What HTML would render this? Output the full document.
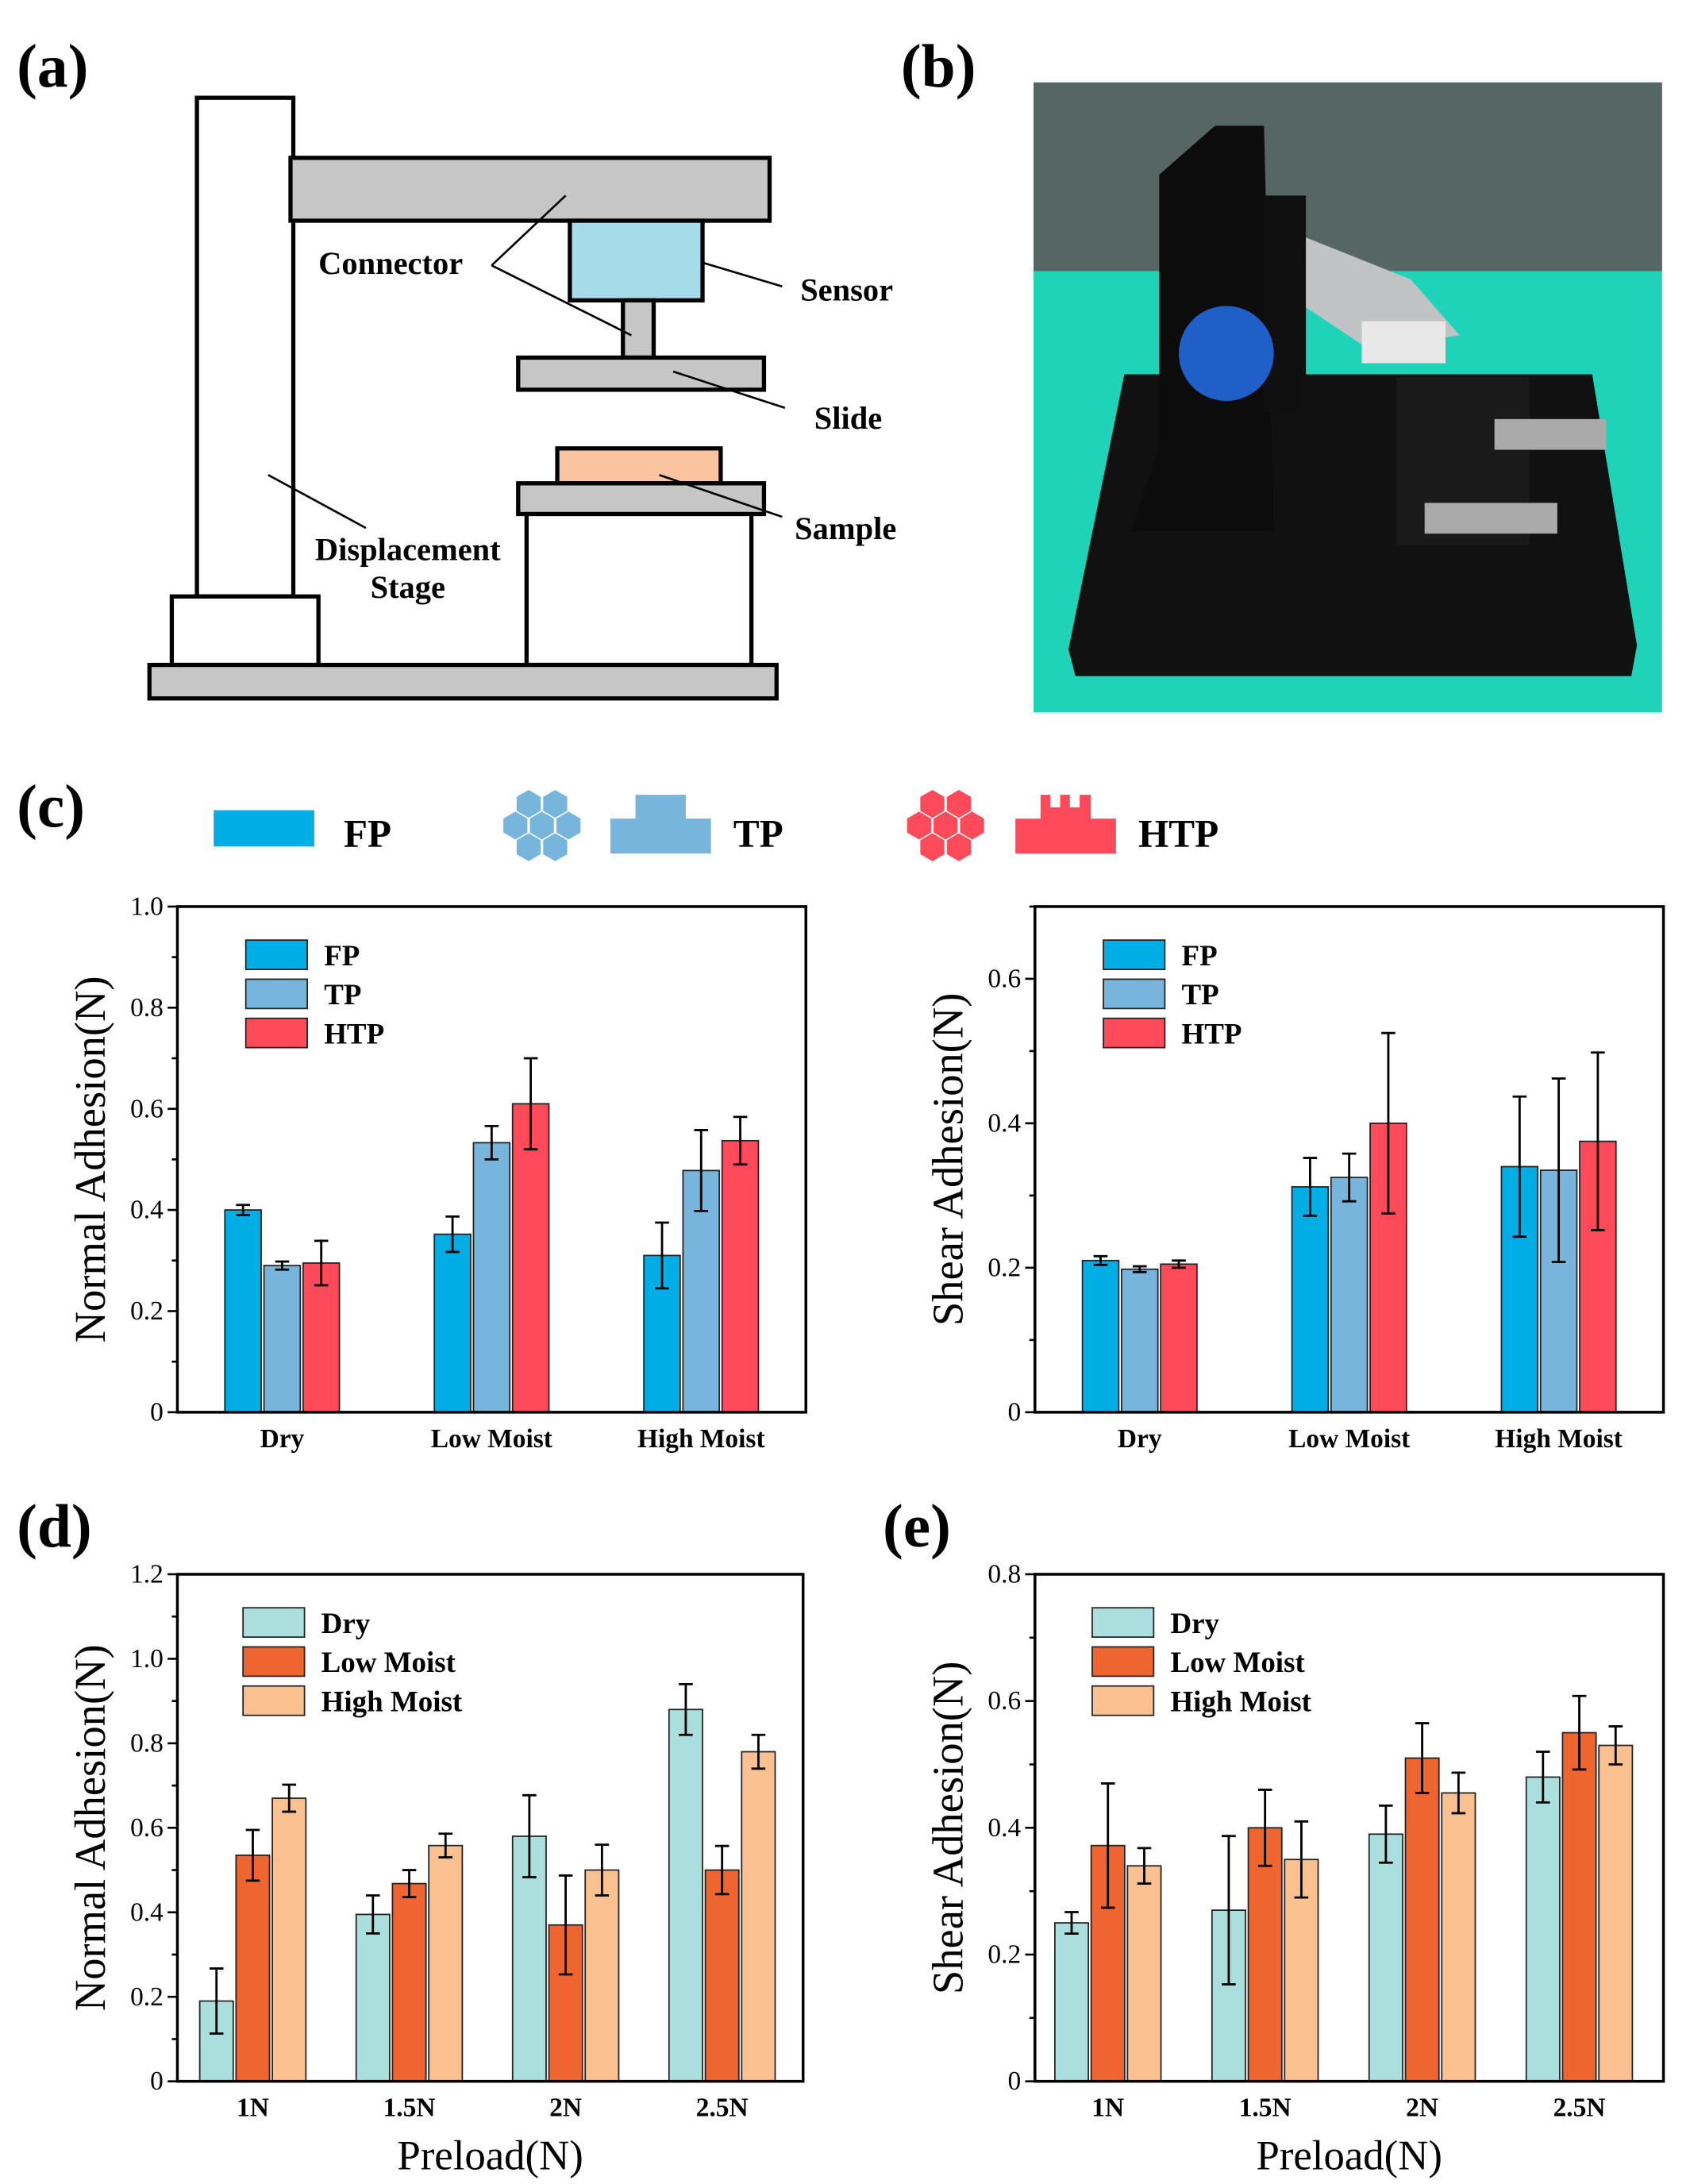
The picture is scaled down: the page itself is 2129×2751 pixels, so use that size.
<!DOCTYPE html>
<html><head><meta charset="utf-8"><style>
html,body{margin:0;padding:0;background:#fff}
svg{display:block}
text{font-family:"Liberation Serif",serif}
</style></head><body>
<svg id="fig" xmlns="http://www.w3.org/2000/svg" width="2129" height="2751" viewBox="0 0 1210 1563.5">
<g stroke="#000" stroke-width="3">
<text x="12" y="62" font-size="44" font-weight="bold" stroke="none">(a)</text>
<rect x="141" y="70" width="69" height="357" fill="#fff"/>
<rect x="208" y="113" width="343" height="45" fill="#c6c6c6"/>
<rect x="408" y="158" width="95" height="57" fill="#a6dcea"/>
<rect x="446" y="215" width="22" height="41" fill="#c6c6c6"/>
<rect x="371" y="256" width="176" height="23" fill="#c6c6c6"/>
<rect x="399" y="321" width="117" height="25" fill="#fac4a0"/>
<rect x="371" y="346" width="176" height="22" fill="#c6c6c6"/>
<rect x="377" y="368" width="161" height="108" fill="#fff"/>
<rect x="123" y="427" width="105" height="49" fill="#fff"/>
<rect x="107" y="476" width="449" height="24" fill="#c6c6c6"/>
<g stroke-width="1.5" fill="none">
<line x1="352" y1="190" x2="405" y2="140"/><line x1="352" y1="190" x2="452" y2="240"/>
<line x1="503" y1="188" x2="560" y2="205"/><line x1="482" y1="266" x2="562" y2="292"/>
<line x1="472" y1="340" x2="560" y2="370"/><line x1="192" y1="340" x2="262" y2="378"/>
</g>
<g stroke="none" font-size="23" font-weight="bold">
<text x="228" y="196">Connector</text>
<text x="573" y="215">Sensor</text>
<text x="583" y="307">Slide</text>
<text x="569" y="386">Sample</text>
<text x="292" y="401" text-anchor="middle">Displacement</text>
<text x="292" y="428" text-anchor="middle">Stage</text>
</g>
</g>
<g>
<text x="645" y="62" font-size="44" font-weight="bold">(b)</text>
<rect x="740" y="59" width="450" height="451" fill="#1fd3b8"/>
<rect x="740" y="59" width="450" height="135" fill="#556663"/>
<polygon points="805,268 1140,268 1172,462 1168,484 770,484 765,465" fill="#111"/>
<polygon points="830,125 870,90 905,90 912,380 810,380 830,320" fill="#0c0c0c"/>
<rect x="905" y="140" width="30" height="155" fill="#101010"/>
<circle cx="878" cy="253" r="34" fill="#1f5fc8"/>
<polygon points="935,170 1010,200 1045,240 980,250 935,220" fill="#bfc3c3"/>
<rect x="975" y="230" width="60" height="30" fill="#e8e8e8"/>
<rect x="1000" y="270" width="95" height="120" fill="#1a1a1a"/>
<rect x="1070" y="300" width="80" height="22" fill="#aaa"/>
<rect x="1020" y="360" width="95" height="22" fill="#aaa"/>
</g>
<g>
<text x="12" y="592" font-size="44" font-weight="bold">(c)</text>
<rect x="153" y="580" width="72" height="26" fill="#00aee6"/>
<text x="246" y="606" font-size="28" font-weight="bold">FP</text>
<g fill="#77b5dc" id="hexblue"></g>
<polygon points="437,586 455,586 455,569 491,569 491,586 509,586 509,611 437,611" fill="#77b5dc"/>
<text x="525" y="606" font-size="28" font-weight="bold">TP</text>
<g fill="#ff4a5a" id="hexred"></g>
<polygon points="727,586 745,586 745,569 752,569 752,578 759,578 759,569 766,569 766,578 773,578 773,569 781,569 781,586 799,586 799,611 727,611" fill="#ff4a5a"/>
<text x="815" y="606" font-size="28" font-weight="bold">HTP</text>
</g>
<text x="12" y="1107" font-size="44" font-weight="bold">(d)</text>
<text x="632" y="1107" font-size="44" font-weight="bold">(e)</text>
<g id="charts"></g>
</svg>
<script>
// ---- data ----
const cCategories = ["Dry", "Low Moist", "High Moist"];
const cSeriesNames = ["FP", "TP", "HTP"];
const cNormalFP = [0.40, 0.352, 0.31];
const cNormalTP = [0.29, 0.533, 0.478];
const cNormalHTP = [0.295, 0.61, 0.537];
const cNormalErrFP = [0.01, 0.035, 0.065];
const cNormalErrTP = [0.008, 0.033, 0.08];
const cNormalErrHTP = [0.044, 0.09, 0.047];
const cShearFP = [0.21, 0.312, 0.34];
const cShearTP = [0.198, 0.325, 0.335];
const cShearHTP = [0.205, 0.40, 0.375];
const cShearErrFP = [0.006, 0.04, 0.097];
const cShearErrTP = [0.004, 0.033, 0.127];
const cShearErrHTP = [0.005, 0.125, 0.123];
const cNormalTicks = ["0", "0.2", "0.4", "0.6", "0.8", "1.0"];
const cShearTicks = ["0", "0.2", "0.4", "0.6"];
const dCategories = ["1N", "1.5N", "2N", "2.5N"];
const dSeriesNames = ["Dry", "Low Moist", "High Moist"];
const dNormalDry = [0.19, 0.395, 0.58, 0.88];
const dNormalLow = [0.535, 0.468, 0.37, 0.50];
const dNormalHigh = [0.67, 0.558, 0.50, 0.78];
const dNormalErrDry = [0.077, 0.045, 0.097, 0.06];
const dNormalErrLow = [0.06, 0.032, 0.117, 0.057];
const dNormalErrHigh = [0.032, 0.028, 0.06, 0.04];
const dNormalTicks = ["0", "0.2", "0.4", "0.6", "0.8", "1.0", "1.2"];
const eShearDry = [0.25, 0.27, 0.39, 0.48];
const eShearLow = [0.372, 0.40, 0.51, 0.55];
const eShearHigh = [0.34, 0.35, 0.455, 0.53];
const eShearErrDry = [0.017, 0.117, 0.045, 0.04];
const eShearErrLow = [0.098, 0.06, 0.055, 0.058];
const eShearErrHigh = [0.028, 0.06, 0.032, 0.03];
const eShearTicks = ["0", "0.2", "0.4", "0.6", "0.8"];

const NS = "http://www.w3.org/2000/svg";
function mk(tag, attrs, parent) {
  const e = document.createElementNS(NS, tag);
  for (const k in attrs) e.setAttribute(k, attrs[k]);
  parent.appendChild(e);
  return e;
}
function hexes(g, cx, cy) {
  const r = 10.5, offs = [[-9.5,-15.5],[9.5,-15.5],[-19,0],[0,0],[19,0],[-9.5,15.5],[9.5,15.5]];
  offs.forEach(o => {
    let pts = [];
    for (let i = 0; i < 6; i++) { const a = Math.PI / 3 * i + Math.PI / 6; pts.push((cx + o[0] + r * Math.cos(a) * 0.95).toFixed(1) + "," + (cy + o[1] + r * Math.sin(a) * 0.95).toFixed(1)); }
    const p = mk("polygon", {points: pts.join(" ")}, g);
    
    
  });
}
hexes(document.getElementById('hexblue'), 388, 591);
hexes(document.getElementById('hexred'), 677, 591);

const root = document.getElementById('charts');
function chart(opt) {
  const g = mk("g", {}, root);
  
  
  const L = opt.x0, R = opt.x1, T = opt.y0, B = opt.y1;
  const y = v => B - v / opt.ymax * (B - T);
  const n = opt.categories.length;
  const step = (R - L) / n;
  const cx = i => L + step * (i + 0.5) + opt.shift;
  opt.series.forEach((s, si) => {
    s.forEach((v, i) => {
      const bx = cx(i) + (si - 1) * opt.pitch - opt.bw / 2;
      const r = mk("rect", {x: bx, y: y(v), width: opt.bw, height: B - y(v), fill: opt.colors[si], stroke: "#222", "stroke-width": 1}, g);
      
      
      const e = opt.errors[si][i], mx = bx + opt.bw / 2;
      const eb = mk("path", {d: `M${mx},${y(v + e)}V${y(v - e)}M${mx - 5},${y(v + e)}H${mx + 5}M${mx - 5},${y(v - e)}H${mx + 5}`, stroke: "#000", "stroke-width": 1.6, fill: "none"}, g);
      
      
    });
  });
  const fr = mk("rect", {x: L, y: T, width: R - L, height: B - T, fill: "none", stroke: "#000", "stroke-width": 2}, g);
  
  
  const tickStep = 0.2;
  opt.ticks.forEach((t, i) => {
    const v = i * tickStep, yy = y(v);
    const tl = mk("line", {x1: L - 7, x2: L, y1: yy, y2: yy, stroke: "#000", "stroke-width": 1.5}, g);
    
    
    const tx = mk("text", {x: L - 10, y: yy + 6, "text-anchor": "end", "font-size": 19}, g);
    tx.textContent = t;
    
    
    const mv = v + tickStep / 2;
    if (mv < opt.ymax + 1e-9) {
      const ml = mk("line", {x1: L - 4, x2: L, y1: y(mv), y2: y(mv), stroke: "#000", "stroke-width": 1.5}, g);
      
      
    }
  });
  opt.categories.forEach((c, i) => {
    const tx = mk("text", {x: cx(i), y: B + 25, "text-anchor": "middle", "font-size": 19, "font-weight": "bold"}, g);
    tx.textContent = c;
    
    
  });
  const yt = mk("text", {x: 0, y: 0, transform: `translate(${L - 52},${(T + B) / 2}) rotate(-90)`, "text-anchor": "middle", "font-size": 31}, g);
  yt.textContent = opt.ytitle;
  
  
  if (opt.xtitle) {
    const xt = mk("text", {x: (L + R) / 2, y: B + 63, "text-anchor": "middle", "font-size": 30}, g);
    xt.textContent = opt.xtitle;
    
    
  }
  opt.seriesNames.forEach((s, si) => {
    const ly = T + 24 + si * 28;
    const lr = mk("rect", {x: L + opt.legX, y: ly, width: 44, height: 21, fill: opt.colors[si], stroke: "#222", "stroke-width": 1}, g);
    
    
    const lt = mk("text", {x: L + opt.legX + 56, y: ly + 18, "font-size": 21, "font-weight": "bold"}, g);
    lt.textContent = s;
    
    
  });
}
const cColors = ["#00aee6", "#77b5dc", "#ff4a5a"];
const dColors = ["#aadfde", "#ee6530", "#fac090"];
chart({name: "chart-c-normal", x0: 127, x1: 577, y0: 649, y1: 1011, ymax: 1.0, ticks: cNormalTicks, categories: cCategories, seriesNames: cSeriesNames,
  series: [cNormalFP, cNormalTP, cNormalHTP], errors: [cNormalErrFP, cNormalErrTP, cNormalErrHTP], colors: cColors, bw: 26, pitch: 28, shift: 0, legX: 49, ytitle: "Normal Adhesion(N)"});
chart({name: "chart-c-shear", x0: 741, x1: 1191, y0: 649, y1: 1011, ymax: 0.7, ticks: cShearTicks, categories: cCategories, seriesNames: cSeriesNames,
  series: [cShearFP, cShearTP, cShearHTP], errors: [cShearErrFP, cShearErrTP, cShearErrHTP], colors: cColors, bw: 26, pitch: 28, shift: 0, legX: 49, ytitle: "Shear Adhesion(N)"});
chart({name: "chart-d-normal", x0: 127, x1: 575, y0: 1127, y1: 1490, ymax: 1.2, ticks: dNormalTicks, categories: dCategories, seriesNames: dSeriesNames,
  series: [dNormalDry, dNormalLow, dNormalHigh], errors: [dNormalErrDry, dNormalErrLow, dNormalErrHigh], colors: dColors, bw: 24, pitch: 26, shift: -2, legX: 47, ytitle: "Normal Adhesion(N)", xtitle: "Preload(N)"});
chart({name: "chart-e-shear", x0: 741, x1: 1191, y0: 1127, y1: 1490, ymax: 0.8, ticks: eShearTicks, categories: dCategories, seriesNames: dSeriesNames,
  series: [eShearDry, eShearLow, eShearHigh], errors: [eShearErrDry, eShearErrLow, eShearErrHigh], colors: dColors, bw: 24, pitch: 26, shift: -4, legX: 41, ytitle: "Shear Adhesion(N)", xtitle: "Preload(N)"});
</script>
</body></html>
